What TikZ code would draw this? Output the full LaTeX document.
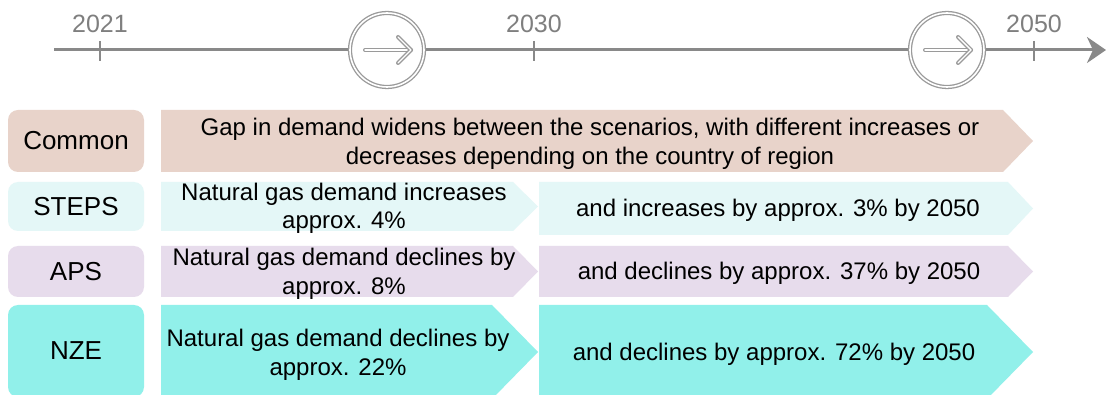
\documentclass[tikz,border=0pt]{standalone}
\usepackage{fontspec}
\setmainfont{Liberation Sans}
\usetikzlibrary{arrows.meta,calc}
\definecolor{commonc}{HTML}{E8D3CA}
\definecolor{stepsc}{HTML}{E4F7F7}
\definecolor{apsc}{HTML}{E7DCEC}
\definecolor{nzec}{HTML}{91F0EA}
\definecolor{tlgray}{HTML}{898989}
\definecolor{txgray}{HTML}{7F7F7F}
\definecolor{ringgray}{HTML}{9A9A9A}
\tikzset{
  labelbox/.style={rounded corners=10pt, inner sep=0pt, minimum width=136pt, font=\fontsize{26}{30}\selectfont, text=black},
  bodytext/.style={align=center, inner sep=0pt, font=\fontsize{24}{28.5}\selectfont, text=black},
  yeartext/.style={anchor=base, inner sep=0pt, font=\fontsize{25}{28}\selectfont, text=txgray},
  tick/.style={draw=tlgray, line width=2.5pt},
  ring/.style={circle, draw=ringgray, double=white, double distance=1.6pt, line width=1.3pt, fill=white, minimum size=74pt, inner sep=0pt},
  ringarrow/.style={draw=ringgray, double=white, double distance=1.4pt, line width=1.3pt, line cap=round, line join=round},
}
\begin{document}
\begin{tikzpicture}[x=1pt,y=-1pt]
\clip (0,0) rectangle (1106,395);
\fill[white] (0,0) rectangle (1106,395);
% timeline
\coordinate (tstart) at (54,50);
\coordinate (tend) at (1106,50);
\draw[tlgray, line width=3pt, -{Stealth[length=19pt,width=26pt,inset=6pt]}] (tstart) -- (tend);
\draw[tick] (100,41) -- (100,61);
\draw[tick] (534,41) -- (534,61);
\draw[tick] (1034,41) -- (1034,61);
\node[yeartext] (y2021) at (100,33) {2021};
\node[yeartext] (y2030) at (534,33) {2030};
\node[yeartext] (y2050) at (1034,33) {2050};
\node[ring] (c1) at (387,50) {};
\node[ring] (c2) at (947,50) {};
\foreach \c in {c1,c2}{
  \draw[ringarrow] ($(\c)+(-22,0)$) -- ($(\c)+(24,0)$);
  \draw[ringarrow] ($(\c)+(11,-13)$) -- ($(\c)+(24,0)$) -- ($(\c)+(11,13)$);
}
% label boxes
\node[labelbox, fill=commonc, minimum height=62pt] (lcommon) at (76,141) {Common};
\node[labelbox, fill=stepsc, minimum height=49pt] (lsteps) at (76,206.5) {STEPS};
\node[labelbox, fill=apsc, minimum height=51pt] (laps) at (76,271.5) {APS};
\node[labelbox, fill=nzec, minimum height=92pt] (lnze) at (76,351) {NZE};
% chevrons
\fill[commonc] (161,110) -- (1003,110) -- (1033,141) -- (1003,172) -- (161,172) -- cycle;
\fill[stepsc] (161,182) -- (513,182) -- (538,206.5) -- (513,231) -- (161,231) -- cycle;
\fill[stepsc] (539,182) -- (1008,182) -- (1033,208.5) -- (1008,235) -- (539,235) -- cycle;
\fill[apsc] (161,246) -- (513,246) -- (538,271.5) -- (513,297) -- (161,297) -- cycle;
\fill[apsc] (539,246) -- (1008,246) -- (1033,271.5) -- (1008,297) -- (539,297) -- cycle;
\fill[nzec] (161,305) -- (492,305) -- (538,352) -- (492,399) -- (161,399) -- cycle;
\fill[nzec] (539,305) -- (987,305) -- (1033,352) -- (987,399) -- (539,399) -- cycle;
% texts
\node[bodytext] (tcommon) at (590,144) {Gap in demand widens between the scenarios, with different increases or\\decreases depending on the country of region};
\node[bodytext] (tsteps1) at (344,208.5) {Natural gas demand increases\\approx. 4\%};
\node[bodytext] (tsteps2) at (778,210) {and increases by approx. 3\% by 2050};
\node[bodytext] (taps1) at (344,274) {Natural gas demand declines by\\approx. 8\%};
\node[bodytext] (taps2) at (779,273) {and declines by approx. 37\% by 2050};
\node[bodytext] (tnze1) at (338,355) {Natural gas demand declines by\\approx. 22\%};
\node[bodytext] (tnze2) at (774,354) {and declines by approx. 72\% by 2050};
\end{tikzpicture}
\end{document}
